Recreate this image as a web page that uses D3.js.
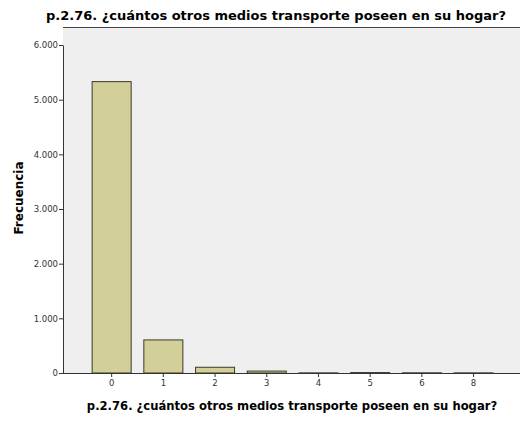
<!DOCTYPE html>
<html>
<head>
<meta charset="utf-8">
<script src="https://cdn.jsdelivr.net/npm/d3@7"></script>
<style>
  body { margin: 0; background: #fff; }
  text { font-family: "DejaVu Sans", sans-serif; }
</style>
</head>
<body>
<div id="chart"></div>
<script>
const categories = ["0", "1", "2", "3", "4", "5", "6", "8"];
const frecuencia = [5330, 605, 105, 35, 3, 8, 4, 3];
const yTicks = [0, 1000, 2000, 3000, 4000, 5000, 6000];
const titulo = "p.2.76. ¿cuántos otros medios transporte poseen en su hogar?";

const margin = {top: 27, right: 0, bottom: 48, left: 63},
    width = 520 - margin.left - margin.right,
    height = 421 - margin.top - margin.bottom;

const svg = d3.select("#chart").append("svg")
    .attr("width", 520)
    .attr("height", 421);

svg.append("text")
    .attr("x", 276)
    .attr("y", 20)
    .attr("text-anchor", "middle")
    .style("font-size", "13px")
    .style("font-weight", "bold")
    .text(titulo);

const g = svg.append("g")
    .attr("transform", `translate(${margin.left}, ${margin.top})`);

g.append("rect")
    .attr("width", width)
    .attr("height", height)
    .attr("fill", "#efefef");

g.append("line")
    .attr("x1", 0).attr("x2", width)
    .attr("y1", 0.5).attr("y2", 0.5)
    .attr("stroke", "#444");

const xScale = d3.scaleBand()
    .domain(categories)
    .range([22.8, 22.8 + 51.7 * 8])
    .paddingInner(0.245)
    .paddingOuter(0.1225);

const yScale = d3.scaleLinear()
    .domain([0, 6000])
    .range([height, 18]);

g.selectAll(".bar")
    .data(categories)
    .join("rect")
    .attr("class", "bar")
    .attr("x", d => xScale(d))
    .attr("y", (d, i) => yScale(frecuencia[i]))
    .attr("width", xScale.bandwidth())
    .attr("height", (d, i) => height - yScale(frecuencia[i]))
    .attr("fill", "#d3cf98")
    .attr("stroke", "#3a3a2a")
    .attr("stroke-width", 1);

const fmt = v => d3.format(",")(v).replace(/,/g, ".");

const yAxis = g.append("g")
    .call(d3.axisLeft(yScale).tickValues(yTicks).tickFormat(fmt).tickSize(4).tickSizeOuter(0));
yAxis.select(".domain").attr("stroke", "#333");
yAxis.selectAll(".tick line").attr("stroke", "#333");
yAxis.selectAll("text").attr("fill", "#333").style("font-size", "8.5px").attr("x", -5);

const xAxis = g.append("g")
    .attr("transform", `translate(0, ${height})`)
    .call(d3.axisBottom(xScale).tickSize(4).tickSizeOuter(0));
xAxis.select(".domain").attr("d", `M0,0.5H${width}`).attr("stroke", "#333");
xAxis.selectAll(".tick line").attr("stroke", "#333");
xAxis.selectAll("text").attr("fill", "#333").style("font-size", "8.5px").attr("y", 7);

svg.append("text")
    .attr("x", 292)
    .attr("y", 410)
    .attr("text-anchor", "middle")
    .style("font-size", "11.6px")
    .style("font-weight", "bold")
    .text(titulo);

svg.append("text")
    .attr("transform", "translate(23, 198) rotate(-90)")
    .attr("text-anchor", "middle")
    .style("font-size", "12px")
    .style("font-weight", "bold")
    .text("Frecuencia");
</script>
</body>
</html>
